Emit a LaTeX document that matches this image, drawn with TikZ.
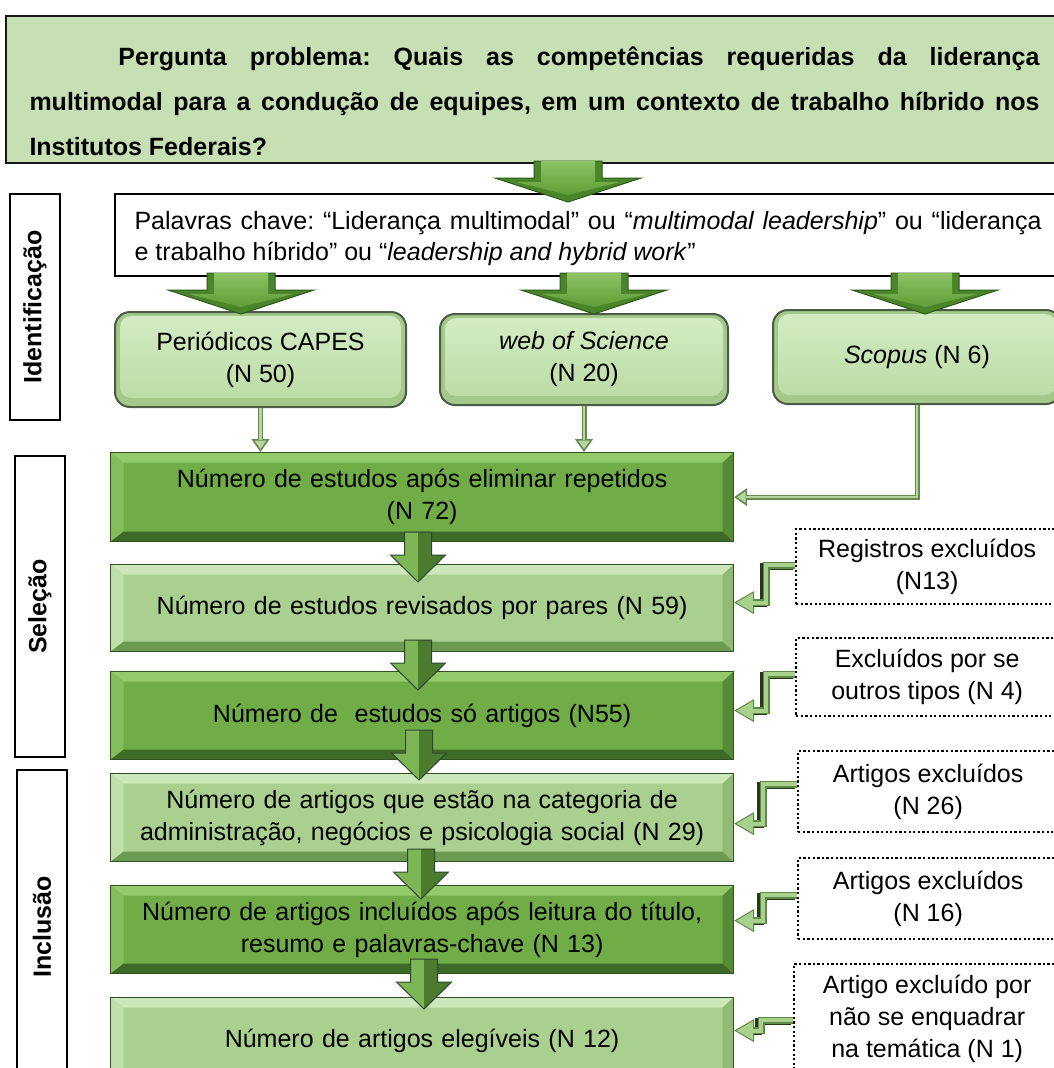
\documentclass[tikz,border=0pt]{standalone}
\usepackage{fontspec}
\setmainfont{Liberation Sans}
\usetikzlibrary{calc,arrows.meta}
\frenchspacing

% palette
\definecolor{qgreen}{HTML}{C6E0B4}
\definecolor{darkbase}{HTML}{70AD47}
\definecolor{darktop}{HTML}{93CB6B}
\definecolor{darkleft}{HTML}{84BE5C}
\definecolor{darkbot}{HTML}{3E6A27}
\definecolor{darkright}{HTML}{568B36}
\definecolor{lightbase}{HTML}{A9D08E}
\definecolor{lighttop}{HTML}{CCE7B9}
\definecolor{lightleft}{HTML}{BFDFA8}
\definecolor{lightbot}{HTML}{6C9A50}
\definecolor{lightright}{HTML}{8EBA71}
\definecolor{edgegreen}{HTML}{2F5321}
\definecolor{srcrim}{HTML}{A3C889}
\definecolor{srctop}{HTML}{D4ECC4}
\definecolor{srcbot}{HTML}{BADBA2}
\definecolor{srcedge}{HTML}{4B5B45}
\definecolor{connout}{HTML}{668A50}
\definecolor{connin}{HTML}{B5D69D}
\definecolor{bentout}{HTML}{5E8A46}
\definecolor{bentin}{HTML}{A9D18E}
\definecolor{bentshade}{HTML}{26391C}
\definecolor{bigdark}{HTML}{4A852A}
\definecolor{bigedge}{HTML}{2E5A1C}
\definecolor{biglight}{HTML}{8CC264}
\definecolor{bigmid}{HTML}{5E9E37}
\definecolor{smleft}{HTML}{7FB655}
\definecolor{smright}{HTML}{4B7C2E}
\definecolor{smedge}{HTML}{2B4736}

\tikzset{
  txt/.style={font=\fontsize{25}{32}\selectfont, align=center},
  qbox/.style={fill=qgreen, draw=black!90, line width=2pt, inner sep=0pt},
  kwbox/.style={fill=white, draw=black, line width=2pt, inner sep=0pt},
  phase/.style={draw=black, line width=2pt, fill=white, rotate=90,
    font=\fontsize{25}{30}\selectfont\bfseries, inner sep=0pt, minimum height=50pt},
  bevel/.style n args={5}{fill=#1, draw=edgegreen, line width=1.2pt,
    path picture={
      \path (path picture bounding box.north west) coordinate (pNW)
            (path picture bounding box.north east) coordinate (pNE)
            (path picture bounding box.south west) coordinate (pSW)
            (path picture bounding box.south east) coordinate (pSE);
      \fill[#2] (pNW) -- (pNE) -- ($(pNE)+(-11pt,-10pt)$) -- ($(pNW)+(13pt,-10pt)$) -- cycle;
      \fill[#3] (pNW) -- ($(pNW)+(13pt,-10pt)$) -- ($(pSW)+(13pt,10pt)$) -- (pSW) -- cycle;
      \fill[#4] (pSW) -- (pSE) -- ($(pSE)+(-11pt,10pt)$) -- ($(pSW)+(13pt,10pt)$) -- cycle;
      \fill[#5] (pNE) -- (pSE) -- ($(pSE)+(-11pt,10pt)$) -- ($(pNE)+(-11pt,-10pt)$) -- cycle;
    }},
  darkbox/.style={bevel={darkbase}{darktop}{darkleft}{darkbot}{darkright}},
  lightbox/.style={bevel={lightbase}{lighttop}{lightleft}{lightbot}{lightright}},
  stage/.style={txt, text width=600pt, minimum width=623pt, anchor=north west, inner sep=0pt},
  srcbox/.style={txt, anchor=north west, inner sep=0pt, rounded corners=15pt,
    fill=srcrim, draw=srcedge, line width=2pt,
    path picture={
      \shade[top color=srctop, bottom color=srcbot, rounded corners=11pt]
        ($(path picture bounding box.north west)+(5pt,-4pt)$) rectangle
        ($(path picture bounding box.south east)+(-5pt,9pt)$);
    }},
  exbox/.style={txt, anchor=north west, inner sep=0pt, fill=white, draw=black,
    line width=2.3pt, dash pattern=on 2.3pt off 2.3pt, minimum width=262pt},
  thinarr/.style={draw=connin, line width=2.4pt, shorten >=12pt, line join=miter,
    preaction={draw=connout, line width=5pt, shorten >=0pt,
      -{Triangle[length=13pt,width=18pt,fill=connin,line width=1.6pt]}}},
  bentarr/.style={draw=bentin, line width=4pt, shorten >=18pt, line join=miter,
    preaction={draw=bentshade, line width=7pt, shorten >=18pt,
      transform canvas={xshift=-2.5pt, yshift=-1pt}},
    preaction={draw=bentout, line width=7pt, shorten >=0pt,
      -{Triangle[length=20pt,width=23pt,fill=bentin,line width=1pt]}}},
  bigarrow/.pic={
    \fill[bigdark, draw=bigedge, line width=1pt, line join=miter]
      (-34,0) -- (34,0) -- (34,17) -- (73,17) -- (0,41) -- (-73,17) -- (-34,17) -- cycle;
    \shade[top color=biglight, bottom color=bigmid]
      (-27,0) -- (27,0) -- (27,21) -- (52,21) -- (0,34) -- (-52,21) -- (-27,21) -- cycle;
  },
  smallarrow/.pic={
    \fill[smleft] (-13.5,0) -- (0,0) -- (0,50) -- (-27.5,23) -- (-13.5,23) -- cycle;
    \fill[smright] (0,0) -- (13.5,0) -- (13.5,23) -- (27.5,23) -- (0,50) -- cycle;
    \draw[smedge, line width=1pt, line join=miter]
      (-13.5,0) -- (13.5,0) -- (13.5,23) -- (27.5,23) -- (0,50) -- (-27.5,23) -- (-13.5,23) -- cycle;
  },
}

\begin{document}
\begin{tikzpicture}[x=1pt,y=-1pt]
\useasboundingbox[fill=white] (0,0) rectangle (1053,1068);

% research question
\node[qbox, anchor=north west, minimum width=1057pt] (q) at (5,15)
  {\parbox[c][147pt][t]{1010pt}{\fontsize{25}{45}\selectfont\bfseries
   \rule{0pt}{49pt}\hspace*{89pt}Pergunta problema: Quais as competências requeridas da liderança\linebreak
   multimodal para a condução de equipes, em um contexto de trabalho híbrido nos\linebreak
   Institutos Federais?}};

% keywords
\node[kwbox, anchor=north west, minimum width=946pt] (kw) at (114,193)
  {\parbox[c][82pt][t]{907pt}{\fontsize{25}{31}\selectfont
   \rule{0pt}{35pt}Palavras chave: “Liderança multimodal” ou “\textit{multimodal leadership}” ou “liderança\linebreak
   e trabalho híbrido” ou “\textit{leadership and hybrid work}”}};

% phase labels
\node[phase, minimum width=226pt] (idl) at (35,307) {Identificação};
\node[phase, minimum width=301pt] (sel) at (40,606.5) {Seleção};
\node[phase, minimum width=314pt] (inc) at (42,927) {Inclusão};

% databases
\node[srcbox, minimum width=291pt, minimum height=95pt] (cap) at (114,311) {Periódicos CAPES\\(N 50)};
\node[srcbox, minimum width=288pt, minimum height=91pt] (wos) at (439,313) {\textit{web of Science}\\(N 20)};
\node[srcbox, minimum width=288pt, minimum height=94pt] (sco) at (772,309) {\textit{Scopus} (N 6)};

% screening stages
\node[stage, darkbox, minimum height=89pt] (n72) at (110,452) {Número de estudos após eliminar repetidos\\(N 72)};
\node[stage, lightbox, minimum height=87pt] (n59) at (110,564) {Número de estudos revisados por pares (N 59)};
\node[stage, darkbox, minimum height=88pt] (n55) at (110,671) {Número de \ estudos só artigos (N55)};
\node[stage, lightbox, minimum height=88pt] (n29) at (110,773) {Número de artigos que estão na categoria de\\administração, negócios e psicologia social (N 29)};
\node[stage, darkbox, minimum height=88pt] (n13) at (110,885) {Número de artigos incluídos após leitura do título,\\resumo e palavras-chave (N 13)};
\node[stage, lightbox, minimum height=86pt] (n12) at (110,997) {Número de artigos elegíveis (N 12)};

% exclusions
\node[exbox, minimum height=75pt] (ex1) at (795,528) {Registros excluídos\\(N13)};
\node[exbox, minimum height=78pt] (ex2) at (795,637) {Excluídos por se\\outros tipos (N 4)};
\node[exbox, minimum height=81pt, minimum width=260pt] (ex3) at (797,750) {Artigos excluídos\\(N 26)};
\node[exbox, minimum height=81pt, minimum width=260pt] (ex4) at (797,857) {Artigos excluídos\\(N 16)};
\node[exbox, minimum height=110pt, minimum width=266pt] (ex5) at (793,963) {Artigo excluído por\\não se enquadrar\\na temática (N 1)};

% database connectors
\draw[thinarr] (cap.south) -- (cap.south |- n72.north);
\draw[thinarr] (wos.south) -- (wos.south |- n72.north);
\draw[thinarr] (sco.south) |- (n72.east);

% exclusion connectors
\draw[bentarr] ($(ex1.west)+(0,-1.5)$) -| ($(n59.east)+(32,-5.5)$) -- ($(n59.east)+(0,-5.5)$);
\draw[bentarr] ($(ex2.west)+(0,-3)$) -| ($(n55.east)+(32,-5)$) -- ($(n55.east)+(0,-5)$);
\draw[bentarr] ($(ex3.west)+(0,-7.5)$) -| ($(n29.east)+(29,6)$) -- ($(n29.east)+(0,6)$);
\draw[bentarr] ($(ex4.west)+(0,-3.5)$) -| ($(n13.east)+(29,-9)$) -- ($(n13.east)+(0,-9)$);
\draw[bentarr] ($(ex5.west)+(0,1)$) -| ($(n12.east)+(27,-10)$) -- ($(n12.east)+(0,-10)$);

% block arrows
\pic at (568,161) {bigarrow};
\pic at (241,273) {bigarrow};
\pic at (594,273) {bigarrow};
\pic at (925,273) {bigarrow};

\pic at (418,532) {smallarrow};
\pic at (418,640) {smallarrow};
\pic at (419,730) {smallarrow};
\pic at (421,849) {smallarrow};
\pic at (424,959) {smallarrow};
\end{tikzpicture}
\end{document}
